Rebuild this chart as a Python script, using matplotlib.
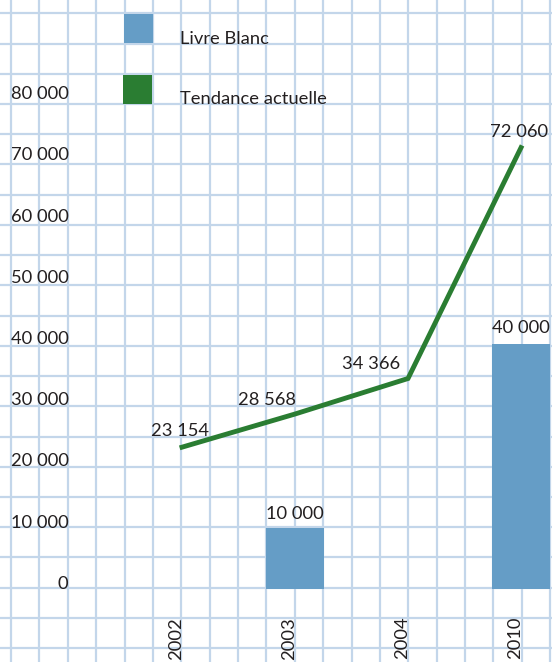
import numpy as np
import matplotlib
matplotlib.use("Agg")
import matplotlib.pyplot as plt
from matplotlib.patches import Rectangle
from matplotlib.transforms import ScaledTranslation

# ---- data ----
years = ["2002", "2003", "2004", "2010"]
trend_values = [23154, 28568, 34366, 72060]          # Tendance actuelle
white_paper_years = ["2003", "2010"]
white_paper_values = [10000, 40000]                   # Livre Blanc
y_ticks = [0, 10000, 20000, 30000, 40000, 50000, 60000, 70000, 80000]
series_names = ["Livre Blanc", "Tendance actuelle"]

def fmt(v):
    return f"{v:,}".replace(",", " ")

W, H = 552, 662
DPI = 100
plt.rcParams['font.family'] = ['Lato', 'DejaVu Sans']
TEXT = "#231f20"
BLUE = "#659dc6"
GREEN = "#2a7d32"
GRID = "#c3d6ea"
FS = 13.2

fig = plt.figure(figsize=(W / DPI, H / DPI), dpi=DPI)
fig.patch.set_facecolor("white")

# ---- graph-paper background ----
bg = fig.add_axes([0, 0, 1, 1], zorder=0)
bg.set_xlim(0, W)
bg.set_ylim(H, 0)
bg.set_xticks(np.arange(11, W, 28.38))
bg.set_yticks(np.arange(13.3, H, 30.23))
bg.grid(True, color=GRID, linewidth=1.6)
bg.tick_params(length=0, labelbottom=False, labelleft=False)
for s in bg.spines.values():
    s.set_visible(False)

# ---- main axes ----
x0_px, step_px = 182.0, 113.0
ax_left_px, base_px = 70.0, 73.0
px_per_unit = 0.006125
ax = fig.add_axes([ax_left_px / W, base_px / H, (W - ax_left_px) / W, (H - base_px) / H], zorder=1)
ax.patch.set_visible(False)
ax.set_xlim((ax_left_px - x0_px) / step_px, (W - x0_px) / step_px)
ax.set_ylim(0, (H - base_px) / px_per_unit)
for s in ax.spines.values():
    s.set_visible(False)

xpos = {y: i for i, y in enumerate(years)}
bx = [xpos[y] for y in white_paper_years]
ax.bar(bx, white_paper_values, width=58 / step_px, color=BLUE, zorder=2)
ax.plot(range(len(years)), trend_values, color=GREEN, linewidth=3.5, zorder=3,
        solid_joinstyle="miter")

# value labels
bar_offsets = [9, 11]
for x, v, off in zip(bx, white_paper_values, bar_offsets):
    ax.annotate(fmt(v), (x, v), xytext=(0, off), textcoords="offset pixels",
                ha="center", va="baseline", fontsize=FS, color=TEXT, zorder=4)
trend_offsets = [(-2, 11), (-28, 9), (-37, 9.5), (-2, 11)]
for i, (v, off) in enumerate(zip(trend_values, trend_offsets)):
    ax.annotate(fmt(v), (i, v), xytext=off, textcoords="offset pixels",
                ha="center", va="baseline", fontsize=FS, color=TEXT, zorder=4)

# ticks
ax.set_yticks(y_ticks)
ax.set_yticklabels([fmt(t) for t in y_ticks])
ax.set_xticks(range(len(years)))
ax.set_xticklabels(years, rotation=90)
ax.tick_params(axis="y", length=0, pad=1, labelsize=FS, labelcolor=TEXT)
ax.tick_params(axis="x", length=0, pad=20, labelsize=FS, labelcolor=TEXT)
for lab in ax.get_yticklabels():
    lab.set_va("baseline")
shift = ScaledTranslation(-6 / DPI, 0, fig.dpi_scale_trans)
for lab in ax.get_xticklabels():
    lab.set_transform(lab.get_transform() + shift)

# ---- legend (manual) ----
def fx(px):
    return px / W

def fy(py):
    return 1 - py / H

for (top, left, col), name in zip([(14, 124, BLUE), (75, 123, GREEN)], series_names):
    fig.add_artist(Rectangle((fx(left), fy(top + 29)), 29 / W, 29 / H,
                             transform=fig.transFigure, facecolor=col, edgecolor="none", zorder=5))
    fig.text(fx(180), fy(top + 29.5), name, fontsize=FS, color=TEXT, ha="left", va="baseline", zorder=5)

fig.savefig("out.png", dpi=DPI)
